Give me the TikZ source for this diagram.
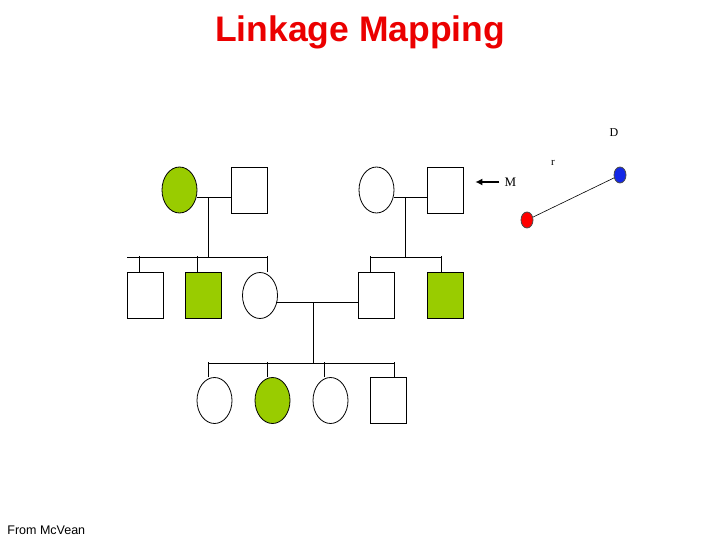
\documentclass[tikz,border=0pt]{standalone}
\usepackage{fontspec}
\setmainfont{Liberation Serif}
\setsansfont{Liberation Sans}
\usepackage{tikz}
\usetikzlibrary{arrows.meta,positioning,calc,shapes.geometric}

\definecolor{affgreen}{RGB}{153,204,0}
\definecolor{titlered}{RGB}{235,0,0}
\definecolor{dotblue}{RGB}{20,40,230}

\tikzset{
    male/.style={draw, rectangle, minimum width=36pt, minimum height=46pt, inner sep=0pt},
    female/.style={draw, ellipse, minimum width=35pt, minimum height=46pt, inner sep=0pt},
    affected/.style={fill=affgreen},
    locus/.style={draw=black!70, ellipse, minimum width=12pt, minimum height=16pt, inner sep=0pt},
    lbl/.style={inner sep=0pt, font=\fontsize{13}{15}\selectfont}
}

\begin{document}
\begin{tikzpicture}[x=1pt, y=-1pt, line width=0.8pt]
    \useasboundingbox (0,0) rectangle (720,540);

    % Title
    \node[anchor=base, text=titlered, font=\sffamily\bfseries\fontsize{35.5}{40}\selectfont] (title) at (360,42) {Linkage Mapping};

    % First generation
    \node[female, affected] (gm1) at (179.5,190) {};
    \node[male] (gf1) at (249,190) {};
    \node[female] (gm2) at (376.5,190) {};
    \node[male] (gf2) at (445.5,190) {};

    % Second generation
    \node[male] (c1) at (145,295.5) {};
    \node[male, affected] (c2) at (203.5,295.5) {};
    \node[female] (c3) at (260,295.5) {};
    \node[male] (c4) at (376.5,295.5) {};
    \node[male, affected] (c5) at (445.5,295.5) {};

    % Third generation
    \node[female] (g1) at (214.5,400.5) {};
    \node[female, affected] (g2) at (272.5,400.5) {};
    \node[female] (g3) at (330.5,400.5) {};
    \node[male] (g4) at (388,400.5) {};

    % Left family
    \coordinate (sib1) at (208,257);
    \draw (gm1.-23) -- (gm1.-23 -| gf1.west);
    \draw (sib1 |- gm1.-23) -- (sib1);
    \draw (127,257) -- (267,257);
    \draw ([xshift=-6pt]c1.north) -- ++(0,-16);
    \draw ([xshift=-6.5pt]c2.north) -- ++(0,-16);
    \draw ([xshift=7pt]c3.north) -- ++(0,-16);

    % Right family
    \coordinate (sib2) at (405,257);
    \draw (gm2.-23) -- (gm2.-23 -| gf2.west);
    \draw (sib2 |- gm2.-23) -- (sib2);
    \draw (370,257) -- (441,257);
    \draw ([xshift=-6.5pt]c4.north) -- ++(0,-16);
    \draw ([xshift=-4.5pt]c5.north) -- ++(0,-16);

    % Marriage in second generation
    \coordinate (sib3) at (313,363);
    \draw (c3.-22) -- (c3.-22 -| c4.west);
    \draw (sib3 |- c3.-22) -- (sib3);
    \draw (208,363) -- (394,363);
    \draw ([xshift=-6.5pt]g1.north) -- ++(0,-15);
    \draw ([xshift=-5.5pt]g2.north) -- ++(0,-15);
    \draw ([xshift=-6.5pt]g3.north) -- ++(0,-15);
    \draw ([xshift=6pt]g4.north) -- ++(0,-15);

    % Marker and disease locus
    \node[lbl] (mlab) at (510.5,182) {M};
    \draw[-{Latex[length=7pt,width=7pt]}, line width=1.6pt] ([xshift=-5pt]mlab.west) -- ++(-24,0);
    \node[lbl, font=\fontsize{12}{14}\selectfont] (dlab) at (614,133) {D};
    \node[lbl, font=\fontsize{11}{13}\selectfont] (rlab) at (553,163) {r};
    \node[locus, fill=red] (mk) at (527,220) {};
    \node[locus, fill=dotblue] (dis) at (620,175) {};
    \draw[line width=0.6pt] (mk) -- (dis);

    % Source
    \node[anchor=base west, inner sep=0pt, font=\sffamily\fontsize{12.5}{14}\selectfont] (src) at (7,534) {From McVean};
\end{tikzpicture}
\end{document}
